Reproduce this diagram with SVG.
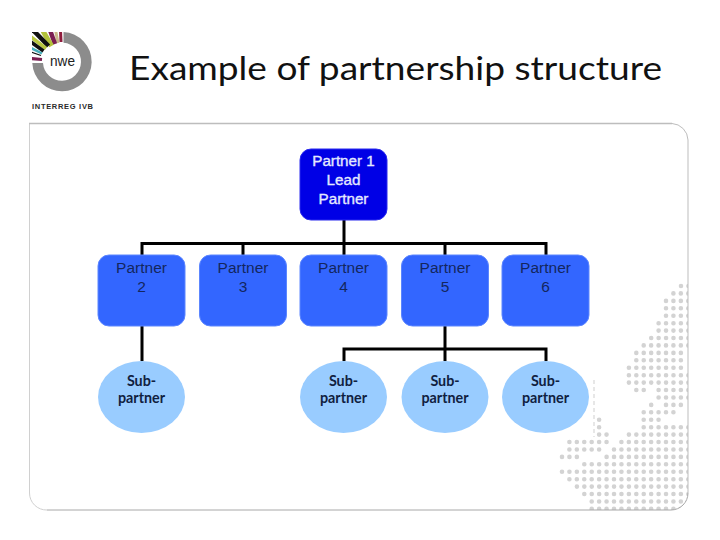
<svg xmlns="http://www.w3.org/2000/svg" width="720" height="540" viewBox="0 0 720 540">
<style>
.title{font-family:"Lato","Liberation Sans",sans-serif;font-size:33.5px;fill:#111}
.pbox{fill:#3366ff;stroke:#5c86ff;stroke-width:1}
.lead{fill:#0000e6;stroke:#2a2aee;stroke-width:1}
.sub{fill:#99ccff}
.pt{font-family:"Liberation Sans",Arial,sans-serif;font-size:15.5px;fill:#14265e;text-anchor:middle}
.lt{font-family:"Liberation Sans",Arial,sans-serif;font-size:15.2px;fill:#e4e9ff;stroke:#e4e9ff;stroke-width:.35;text-anchor:middle}
.st{font-family:"Lato","Liberation Sans",Arial,sans-serif;font-size:14.3px;font-weight:bold;fill:#10213f;text-anchor:middle}
.conn{fill:none;stroke:#000;stroke-width:3}
.dots{fill:none;stroke:#d3d3d3;stroke-width:4.6;stroke-linecap:round;stroke-dasharray:0 7.43}
.stripe{fill:none}
</style>
<defs>
<clipPath id="panelclip"><rect x="30" y="124" width="658" height="386" rx="16"/></clipPath>
<clipPath id="logoclip"><rect x="32" y="32" width="32" height="32"/></clipPath>
</defs>
<rect width="720" height="540" fill="#fff"/>
<g id="logo">
<path d="M63.500 32A29.700 29.700 0 1 1 32.300 63L43 63A19 19 0 1 0 63.500 42.800Z" fill="#8c8c8c"/>
<g class="stripe" clip-path="url(#logoclip)">
<path d="M60.500 30L61 42" stroke="#8e1c3c" stroke-width="3"/>
<path d="M55.500 30L58 43" stroke="#c9b98a" stroke-width="3"/>
<path d="M50 30L55 44" stroke="#7a1f52" stroke-width="4.500"/>
<path d="M43 31L51.500 46" stroke="#b3c23a" stroke-width="5"/>
<path d="M33 30L48.500 46" stroke="#111" stroke-width="4.500"/>
<path d="M31 37L46 48.500" stroke="#b7c63f" stroke-width="3.500"/>
<path d="M31 42L43.500 51" stroke="#111" stroke-width="3.500"/>
<path d="M31 48L42 53.500" stroke="#46aebb" stroke-width="2.500"/>
<path d="M31 52L41 55.500" stroke="#111" stroke-width="1.200"/>
<path d="M31 58.500L42 59.500" stroke="#7a1f52" stroke-width="3.200"/>
</g>
<text x="50" y="66" font-family="Liberation Sans,Arial,sans-serif" font-size="15" fill="#222" textLength="25" lengthAdjust="spacingAndGlyphs">nwe</text>
<text x="32" y="108.500" font-family="Liberation Sans,Arial,sans-serif" font-size="7.500" font-weight="bold" fill="#2a2a2a" textLength="61" lengthAdjust="spacing">INTERREG IVB</text>
</g>
<text class="title" x="129" y="80" textLength="533" lengthAdjust="spacingAndGlyphs">Example of partnership structure</text>
<g id="panel">
<g clip-path="url(#panelclip)">
<path class="dots" d="M681 286H689M673.400 293.400H689M666 300.900H689M666 308.300H689M666 315.700H689M658.600 323.200H689M658.600 330.600H689M651.200 338H689M643.700 345.400H689M636.300 352.900H681.500M636.300 360.300H681.500M628.900 367.700H681.500M628.900 375.200H689M628.900 382.600H689M636.300 390H644M658.600 390H689M658.600 397.500H689M651.200 404.900H651.600M666 404.900H681.500M643.700 412.300H674M643.700 419.700H659M599.100 419.700H599.500M643.700 427.200H689M599.100 427.200H599.500M599.100 434.600H606.900M628.900 434.600H689M569.400 442H606.900M621.400 442H689M569.400 449.500H599.500M614 449.500H689M562 456.900H577.200M606.600 456.900H689M584.300 464.300H689M562 471.800H689M569.400 479.200H689M576.900 486.600H689M584.300 494H689M591.700 501.500H689M591.700 508.900H689"/>
</g>
<path d="M594 380V437" fill="none" stroke="#cfcfcf" stroke-width="1" stroke-dasharray="4 3"/>
<path d="M29.500 123.500V493A17 17 0 0 0 47 510" fill="none" stroke="#d0d0d0" stroke-width="1"/>
<path d="M47 510H671A17 17 0 0 0 688 493" fill="none" stroke="#a8a8a8" stroke-width="1"/>
<path d="M688 493V140A17 17 0 0 0 672 123.500" fill="none" stroke="#bdbdbd" stroke-width="1"/>
<path d="M672 123.500H29" fill="none" stroke="#bdbdbd" stroke-width="1.500"/>
</g>
<g id="connectors">
<path class="conn" d="M344 220V255M142 255V243.500H546V255M243 243.500V255M445 243.500V255M142 326V361M445 326V361M344 361V349H546V361"/>
</g>
<g id="partner1"><rect class="lead" x="300" y="149" width="87" height="71" rx="11"/><text class="lt" x="343.500" y="166">Partner 1</text><text class="lt" x="343.500" y="185">Lead</text><text class="lt" x="343.500" y="203.500">Partner</text></g>
<g id="partner2"><rect class="pbox" x="98" y="255" width="87" height="71" rx="11"/><text class="pt" x="141.500" y="273">Partner</text><text class="pt" x="141.500" y="292">2</text></g>
<g id="partner3"><rect class="pbox" x="199.500" y="255" width="87" height="71" rx="11"/><text class="pt" x="243" y="273">Partner</text><text class="pt" x="243" y="292">3</text></g>
<g id="partner4"><rect class="pbox" x="300" y="255" width="87" height="71" rx="11"/><text class="pt" x="343.500" y="273">Partner</text><text class="pt" x="343.500" y="292">4</text></g>
<g id="partner5"><rect class="pbox" x="401.500" y="255" width="87" height="71" rx="11"/><text class="pt" x="445" y="273">Partner</text><text class="pt" x="445" y="292">5</text></g>
<g id="partner6"><rect class="pbox" x="502" y="255" width="87" height="71" rx="11"/><text class="pt" x="545.500" y="273">Partner</text><text class="pt" x="545.500" y="292">6</text></g>
<g id="sub1"><ellipse class="sub" cx="141.500" cy="397" rx="43.500" ry="36"/><text class="st" x="141.500" y="385.500">Sub-</text><text class="st" x="141.500" y="402.500">partner</text></g>
<g id="sub2"><ellipse class="sub" cx="343.500" cy="397" rx="43.500" ry="36"/><text class="st" x="343.500" y="385.500">Sub-</text><text class="st" x="343.500" y="402.500">partner</text></g>
<g id="sub3"><ellipse class="sub" cx="445" cy="397" rx="43.500" ry="36"/><text class="st" x="445" y="385.500">Sub-</text><text class="st" x="445" y="402.500">partner</text></g>
<g id="sub4"><ellipse class="sub" cx="545.500" cy="397" rx="43.500" ry="36"/><text class="st" x="545.500" y="385.500">Sub-</text><text class="st" x="545.500" y="402.500">partner</text></g>
</svg>
